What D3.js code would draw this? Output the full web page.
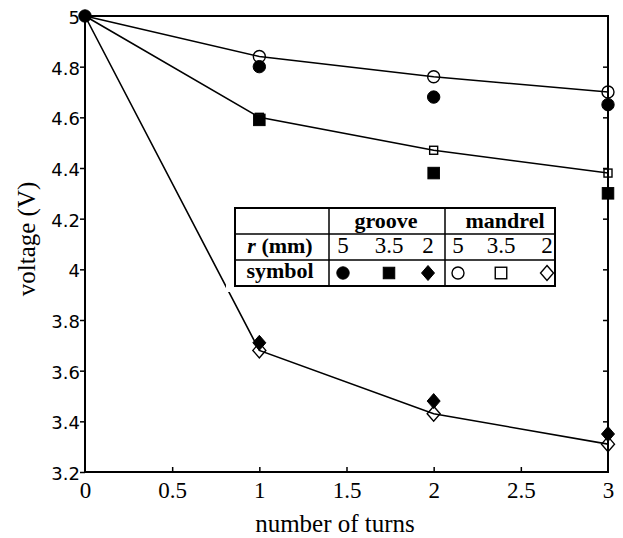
<!DOCTYPE html>
<html><head><meta charset="utf-8">
<script src="https://cdn.jsdelivr.net/npm/d3@7"></script>
<style>body{margin:0;background:#fff} svg{display:block}</style>
</head><body><svg id="c" width="623" height="538"></svg>
<script>
// ---- data ----
const turns = [0, 1, 2, 3];
const groove5  = [5, 4.80, 4.68, 4.65];
const groove35 = [5, 4.59, 4.38, 4.30];
const groove2  = [5, 3.71, 3.48, 3.35];
const mandrel5  = [5, 4.84, 4.76, 4.70];
const mandrel35 = [5, 4.60, 4.47, 4.38];
const mandrel2  = [5, 3.68, 3.43, 3.31];
const xTicks = [0, 0.5, 1, 1.5, 2, 2.5, 3];
const xTickLabels = ["0", "0.5", "1", "1.5", "2", "2.5", "3"];
const yTicks = [3.2, 3.4, 3.6, 3.8, 4, 4.2, 4.4, 4.6, 4.8, 5];
const yTickLabels = ["3.2", "3.4", "3.6", "3.8", "4", "4.2", "4.4", "4.6", "4.8", "5"];
const tableGroups = ["groove", "mandrel"];
const tableRadii = ["5", "3.5", "2", "5", "3.5", "2"];
const tableSymbols = ["circleF", "squareF", "diamondF", "circleO", "squareO", "diamondO"];
const xLabel = "number of turns";
const yLabel = "voltage (V)";

// ---- layout ----
const W = 623, H = 538;
const m = {left: 85, top: 16, right: 15, bottom: 66};
const svg = d3.select("#c");
const x = d3.scaleLinear().domain([0, 3]).range([m.left, W - m.right]);
const y = d3.scaleLinear().domain([3.2, 5]).range([H - m.bottom, m.top]);

const serif = "Liberation Serif, Times New Roman, serif";
const sans = "DejaVu Sans, Verdana, sans-serif";

// marker drawing
function marker(g, type, cx, cy, big) {
  const filled = type.endsWith("F");
  const kind = type.slice(0, -1);
  const st = s => s.attr("fill", filled ? "#000" : "none").attr("stroke", "#000").attr("stroke-width", filled ? 1 : 1.4);
  if (kind === "circle") {
    st(g.append("circle").attr("cx", cx).attr("cy", cy).attr("r", filled ? 6.2 : 6));
  } else if (kind === "square") {
    const s = (filled || big) ? 11.5 : 8;
    st(g.append("rect").attr("x", cx - s / 2).attr("y", cy - s / 2).attr("width", s).attr("height", s));
  } else {
    const hw = 6.5, hh = 7.5;
    st(g.append("path").attr("d", `M${cx},${cy - hh}L${cx + hw},${cy}L${cx},${cy + hh}L${cx - hw},${cy}Z`));
  }
}

// lines (mandrel fits)
const line = d3.line().x((d, i) => x(turns[i])).y(d => y(d));
[mandrel5, mandrel35, mandrel2].forEach(s => {
  svg.append("path").datum(s).attr("d", line).attr("fill", "none")
    .attr("stroke", "#000").attr("stroke-width", 1.6);
});

// white padding behind table
const T = {left: 235, right: 555, top: 208, r1: 234, r2: 260, bottom: 286, c1: 329, c2: 445};
svg.append("rect").attr("x", T.left - 9).attr("y", T.top).attr("width", T.right - T.left + 9)
  .attr("height", T.bottom - T.top + 6).attr("fill", "#fff");

// markers
const mg = svg.append("g");
const openSeries = [[mandrel5, "circleO"], [mandrel35, "squareO"], [mandrel2, "diamondO"]];
const filledSeries = [[groove5, "circleF"], [groove35, "squareF"], [groove2, "diamondF"]];
openSeries.forEach(([s, t]) => s.forEach((v, i) => { if (i > 0) marker(mg, t, x(turns[i]), y(v)); }));
filledSeries.forEach(([s, t]) => s.forEach((v, i) => { if (i > 0) marker(mg, t, x(turns[i]), y(v)); }));
marker(mg, "circleF", x(turns[0]), y(groove5[0]));

// axes
const ax = svg.append("g");
ax.append("rect").attr("x", x(0)).attr("y", y(5)).attr("width", x(3) - x(0)).attr("height", y(3.2) - y(5))
  .attr("fill", "none").attr("stroke", "#000").attr("stroke-width", 2);

const left = ax.append("g").attr("transform", `translate(${x(0)},0)`)
  .call(d3.axisLeft(y).tickValues(yTicks).tickSize(5).tickFormat((d, i) => yTickLabels[i]));
left.attr("font-family", null).attr("font-size", null);
left.select(".domain").remove();
left.selectAll(".tick line").attr("stroke-width", 1.5);
left.selectAll(".tick text").attr("x", -5).attr("dy", "0.42em")
  .style("font-family", sans).style("font-size", "18px").attr("fill", "#000");

const right = ax.append("g").attr("transform", `translate(${x(3)},0)`)
  .call(d3.axisLeft(y).tickValues(yTicks.slice(1, -1)).tickSize(5).tickFormat(""));
right.select(".domain").remove();
right.selectAll(".tick line").attr("stroke-width", 1.5);

const bottomTicks = ax.append("g").attr("transform", `translate(0,${y(3.2)})`)
  .call(d3.axisTop(x).tickValues(xTicks.slice(1, -1)).tickSize(5).tickFormat(""));
bottomTicks.select(".domain").remove();
bottomTicks.selectAll(".tick line").attr("stroke-width", 1.5);

const bottom = ax.append("g").attr("transform", `translate(0,${y(3.2)})`)
  .call(d3.axisBottom(x).tickValues(xTicks).tickSize(0).tickFormat((d, i) => xTickLabels[i]));
bottom.attr("font-family", null).attr("font-size", null);
bottom.select(".domain").remove();
bottom.selectAll(".tick text").attr("y", 26).attr("dy", 0)
  .style("font-family", serif).style("font-size", "23px").attr("fill", "#000");

// axis titles
svg.append("text").attr("x", 335).attr("y", 532).attr("text-anchor", "middle")
  .style("font-family", serif).style("font-size", "25px").text(xLabel);
svg.append("text").attr("transform", "translate(35,239) rotate(-90)").attr("text-anchor", "middle")
  .style("font-family", serif).style("font-size", "25px").text(yLabel);

// ---- legend table ----
const tg = svg.append("g");
tg.append("rect").attr("x", T.left).attr("y", T.top).attr("width", T.right - T.left)
  .attr("height", T.bottom - T.top).attr("fill", "#fff").attr("stroke", "#000").attr("stroke-width", 2);
[T.r1, T.r2].forEach(yy => tg.append("line").attr("x1", T.left).attr("x2", T.right)
  .attr("y1", yy).attr("y2", yy).attr("stroke", "#000").attr("stroke-width", 1.5));
[T.c1, T.c2].forEach(xx => tg.append("line").attr("x1", xx).attr("x2", xx)
  .attr("y1", T.top).attr("y2", T.bottom).attr("stroke", "#000").attr("stroke-width", 1.5));

const colX = [343, 389, 428, 458, 501, 547];
const groupX = [386, 505];
tableGroups.forEach((g, i) => tg.append("text").attr("x", groupX[i]).attr("y", 228)
  .attr("text-anchor", "middle").style("font-family", serif).style("font-weight", "bold")
  .style("font-size", "22px").text(g));

const rt = tg.append("text").attr("x", 280).attr("y", 253).attr("text-anchor", "middle")
  .style("font-family", serif).style("font-weight", "bold").style("font-size", "22px");
rt.append("tspan").style("font-style", "italic").text("r");
rt.append("tspan").text(" (mm)");
tg.append("text").attr("x", 280).attr("y", 278).attr("text-anchor", "middle")
  .style("font-family", serif).style("font-weight", "bold").style("font-size", "22px").text("symbol");

tableRadii.forEach((r, i) => tg.append("text").attr("x", colX[i]).attr("y", 253)
  .attr("text-anchor", "middle").style("font-family", serif).style("font-size", "23px").text(r));
tableSymbols.forEach((s, i) => marker(tg, s, colX[i], 273, true));
</script></body></html>
